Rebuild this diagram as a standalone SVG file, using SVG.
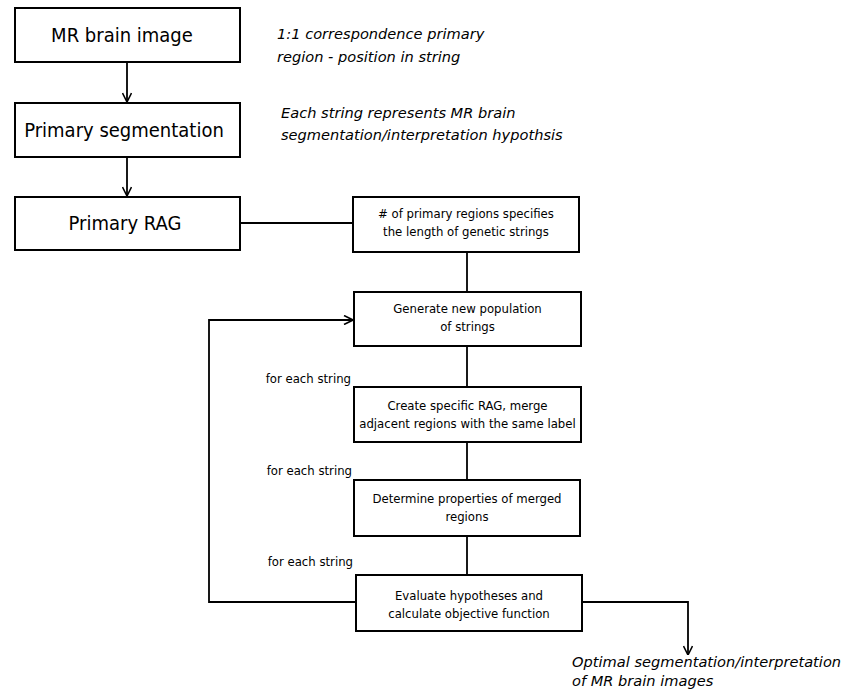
<svg xmlns="http://www.w3.org/2000/svg" width="847" height="693" viewBox="0 0 847 693">
<style>
.box{fill:#fff;stroke:#000;stroke-width:2}
.big{font-family:"DejaVu Sans Condensed","DejaVu Sans",sans-serif;font-stretch:condensed;font-size:20px;fill:#000;text-anchor:middle}
.sm{font-family:"DejaVu Sans Condensed","DejaVu Sans",sans-serif;font-stretch:condensed;font-size:13px;fill:#000;text-anchor:middle}
.lbl{font-family:"DejaVu Sans Condensed","DejaVu Sans",sans-serif;font-stretch:condensed;font-size:13px;fill:#000;text-anchor:end}
.it{font-family:"DejaVu Sans",sans-serif;font-style:italic;font-size:14.6px;fill:#000}
.ln{fill:none;stroke:#000;stroke-width:1.8}
</style>
<defs>
<marker id="arr" viewBox="0 0 10 10" refX="10" refY="5" markerWidth="10" markerHeight="10" markerUnits="userSpaceOnUse" orient="auto">
<path d="M1,0.5 L10,5 L1,9.5" fill="none" stroke="#000" stroke-width="1.6"/>
</marker>
</defs>
<g id="connectors">
<line class="ln" x1="127" y1="62" x2="127" y2="102" marker-end="url(#arr)"/>
<line class="ln" x1="127" y1="157" x2="127" y2="196" marker-end="url(#arr)"/>
<line class="ln" x1="240" y1="223" x2="353" y2="223"/>
<line class="ln" x1="467" y1="252" x2="467" y2="292"/>
<line class="ln" x1="467" y1="346" x2="467" y2="387"/>
<line class="ln" x1="467" y1="442" x2="467" y2="480"/>
<line class="ln" x1="467" y1="536" x2="467" y2="575"/>
<polyline class="ln" points="356,602 209,602 209,320 353,320" marker-end="url(#arr)"/>
<polyline class="ln" points="582,602 688,602 688,655" marker-end="url(#arr)"/>
</g>
<g id="n1"><rect class="box" x="15" y="8" width="225" height="54"/><text class="big" x="122" y="42">MR brain image</text></g>
<g id="n2"><rect class="box" x="15" y="103" width="225" height="54"/><text class="big" x="124" y="137">Primary segmentation</text></g>
<g id="n3"><rect class="box" x="15" y="197" width="225" height="53"/><text class="big" x="125" y="230">Primary RAG</text></g>
<g id="n4"><rect class="box" x="353" y="197" width="226" height="55"/><text class="sm"><tspan x="466" y="218"># of primary regions specifies</tspan><tspan x="466" y="236">the length of genetic strings</tspan></text></g>
<g id="n5"><rect class="box" x="354" y="292" width="227" height="54"/><text class="sm"><tspan x="467.5" y="313">Generate new population</tspan><tspan x="467.5" y="331">of strings</tspan></text></g>
<g id="n6"><rect class="box" x="354" y="387" width="227" height="55"/><text class="sm"><tspan x="467.5" y="410">Create specific RAG, merge</tspan><tspan x="467.5" y="428">adjacent regions with the same label</tspan></text></g>
<g id="n7"><rect class="box" x="354" y="480" width="226" height="56"/><text class="sm"><tspan x="467" y="503">Determine properties of merged</tspan><tspan x="467" y="521">regions</tspan></text></g>
<g id="n8"><rect class="box" x="356" y="575" width="226" height="56"/><text class="sm"><tspan x="469" y="600">Evaluate hypotheses and</tspan><tspan x="469" y="618">calculate objective function</tspan></text></g>
<g id="labels">
<text class="lbl" x="351" y="383">for each string</text>
<text class="lbl" x="352" y="475">for each string</text>
<text class="lbl" x="353" y="566">for each string</text>
<text class="it"><tspan x="277" y="39">1:1 correspondence primary</tspan><tspan x="277" y="62">region - position in string</tspan></text>
<text class="it"><tspan x="281" y="118">Each string represents MR brain</tspan><tspan x="281" y="140">segmentation/interpretation hypothsis</tspan></text>
<text class="it"><tspan x="572" y="667">Optimal segmentation/interpretation</tspan><tspan x="572" y="686">of MR brain images</tspan></text>
</g>
</svg>
